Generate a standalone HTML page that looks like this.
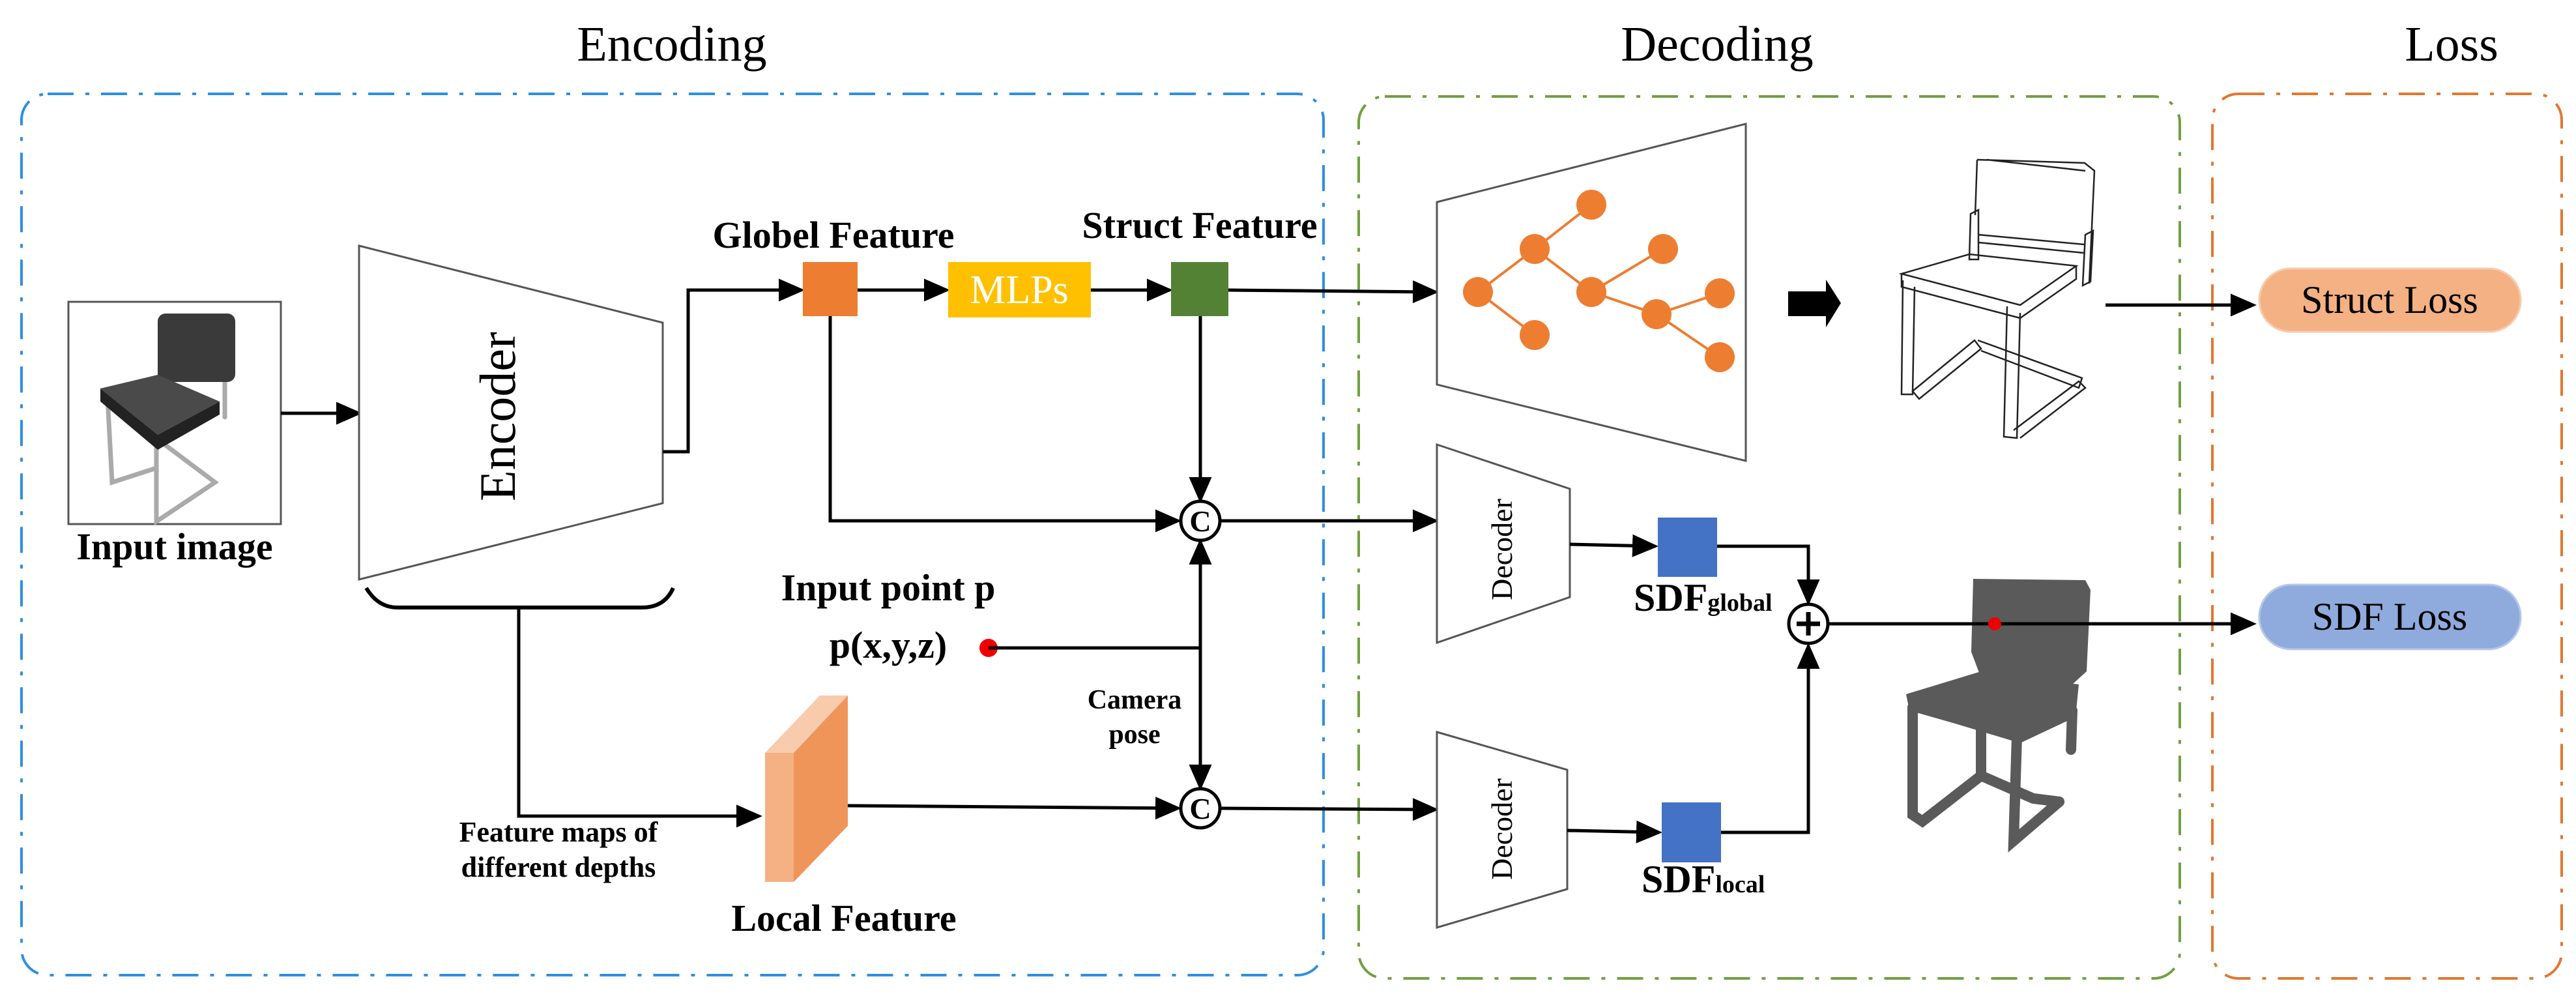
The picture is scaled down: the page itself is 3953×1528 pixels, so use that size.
<!DOCTYPE html>
<html><head><meta charset="utf-8"><style>
html,body{margin:0;padding:0;background:#fff;}
svg{display:block;}
text{font-family:"Liberation Serif",serif;}
</style></head><body>
<svg width="3953" height="1528" viewBox="0 0 3953 1528" xmlns="http://www.w3.org/2000/svg">
<defs>
<marker id="ah" markerWidth="8" markerHeight="8" refX="7" refY="4" orient="auto" markerUnits="strokeWidth">
<path d="M0,0.5 L8,4 L0,7.5 Z" fill="#000"/></marker>
</defs>
<rect width="3953" height="1528" fill="#fff"/>
<!-- titles -->
<text x="1031" y="93" font-size="76" text-anchor="middle">Encoding</text>
<text x="2635" y="93" font-size="76" text-anchor="middle">Decoding</text>
<text x="3762" y="93" font-size="76" text-anchor="middle">Loss</text>
<!-- dashed boxes -->
<g fill="none" stroke-width="4" stroke-dasharray="40 18 6 18">
<rect x="33" y="144" width="1998" height="1352" rx="40" stroke="#2E8FE0"/>
<rect x="2085" y="148" width="1260" height="1353" rx="40" stroke="#70A040"/>
<rect x="3395" y="144" width="536" height="1357" rx="40" stroke="#E07830"/>
</g>
<!-- input image -->
<rect x="105" y="463" width="326" height="341" fill="#fff" stroke="#555" stroke-width="3"/>
<g stroke="#aaa" stroke-width="7" fill="none" stroke-linecap="round">
<path d="M165,610 L172,740 L240,718"/>
<path d="M240,668 L240,800 L330,740 L250,680"/>
<path d="M345,580 L345,640"/>
</g>
<rect x="242" y="481" width="119" height="105" rx="12" fill="#3a3a3a"/>
<path d="M154,596 L242,575 L337,616 L242,667 Z" fill="#4a4a4a"/>
<path d="M154,596 L154,616 L242,690 L337,636 L337,616 L242,667 Z" fill="#222"/>
<text x="268" y="858" font-size="58" font-weight="bold" text-anchor="middle">Input image</text>
<!-- arrow to encoder -->
<line x1="431" y1="634" x2="551" y2="634" stroke="#000" stroke-width="5" marker-end="url(#ah)"/>
<!-- encoder -->
<path d="M551,377 L1017,495 L1017,772 L551,889 Z" fill="#fff" stroke="#555" stroke-width="3"/>
<text x="0" y="0" font-size="78" text-anchor="middle" transform="translate(790,639) rotate(-90)">Encoder</text>
<!-- brace -->
<path d="M562,902 Q580,932 610,932 L985,932 Q1020,932 1033,902" fill="none" stroke="#000" stroke-width="6"/>
<polyline points="796,932 796,1252 1165,1252" fill="none" stroke="#000" stroke-width="5" marker-end="url(#ah)"/>
<text x="857" y="1291" font-size="44" font-weight="bold" text-anchor="middle">Feature maps of</text>
<text x="857" y="1345" font-size="44" font-weight="bold" text-anchor="middle">different depths</text>
<!-- encoder output -->
<polyline points="1017,693 1056,693 1056,445 1230,445" fill="none" stroke="#000" stroke-width="5" marker-end="url(#ah)"/>
<!-- globel -->
<rect x="1232" y="402" width="84" height="83" fill="#ED7D31"/>
<text x="1279" y="380" font-size="58" font-weight="bold" text-anchor="middle">Globel Feature</text>
<line x1="1316" y1="445" x2="1453" y2="445" stroke="#000" stroke-width="5" marker-end="url(#ah)"/>
<rect x="1455" y="402" width="219" height="85" fill="#FFC000"/>
<text x="1564" y="465" font-size="62" fill="#fff" text-anchor="middle">MLPs</text>
<line x1="1674" y1="445" x2="1795" y2="445" stroke="#000" stroke-width="5" marker-end="url(#ah)"/>
<rect x="1797" y="402" width="88" height="83" fill="#548235"/>
<text x="1841" y="365" font-size="58" font-weight="bold" text-anchor="middle">Struct Feature</text>
<line x1="1885" y1="445" x2="2203" y2="448" stroke="#000" stroke-width="5" marker-end="url(#ah)"/>
<!-- globel down to C1 -->
<polyline points="1274,485 1274,799 1808,799" fill="none" stroke="#000" stroke-width="5" marker-end="url(#ah)"/>
<line x1="1842" y1="485" x2="1842" y2="767" stroke="#000" stroke-width="5" marker-end="url(#ah)"/>
<circle cx="1842" cy="799" r="30" fill="#fff" stroke="#000" stroke-width="5"/>
<text x="1842" y="815" font-size="46" font-weight="bold" text-anchor="middle">C</text>
<line x1="1872" y1="799" x2="2203" y2="799" stroke="#000" stroke-width="5" marker-end="url(#ah)"/>
<!-- input point -->
<text x="1363" y="921" font-size="58" font-weight="bold" text-anchor="middle">Input point p</text>
<text x="1363" y="1009" font-size="58" font-weight="bold" text-anchor="middle">p(x,y,z)</text>
<circle cx="1517" cy="994" r="14" fill="#E00"/>
<line x1="1517" y1="994" x2="1842" y2="994" stroke="#000" stroke-width="5"/>
<line x1="1842" y1="994" x2="1842" y2="831" stroke="#000" stroke-width="5" marker-end="url(#ah)"/>
<line x1="1842" y1="994" x2="1842" y2="1208" stroke="#000" stroke-width="5" marker-end="url(#ah)"/>
<text x="1741" y="1087" font-size="42" font-weight="bold" text-anchor="middle">Camera</text>
<text x="1741" y="1140" font-size="42" font-weight="bold" text-anchor="middle">pose</text>
<!-- local feature -->
<path d="M1174,1155 L1258,1067 L1301,1067 L1218,1155 Z" fill="#F8CBAD"/>
<rect x="1174" y="1155" width="44" height="198" fill="#F4B183"/>
<path d="M1218,1155 L1301,1067 L1301,1267 L1218,1353 Z" fill="#F0955A"/>
<text x="1295" y="1428" font-size="58" font-weight="bold" text-anchor="middle">Local Feature</text>
<line x1="1301" y1="1236" x2="1808" y2="1240" stroke="#000" stroke-width="5" marker-end="url(#ah)"/>
<circle cx="1842" cy="1240" r="30" fill="#fff" stroke="#000" stroke-width="5"/>
<text x="1842" y="1256" font-size="46" font-weight="bold" text-anchor="middle">C</text>
<line x1="1872" y1="1240" x2="2203" y2="1242" stroke="#000" stroke-width="5" marker-end="url(#ah)"/>
<!-- structure trapezoid -->
<path d="M2205,310 L2679,190 L2679,707 L2205,590 Z" fill="#fff" stroke="#555" stroke-width="3"/>
<g stroke="#ED7D31" stroke-width="4">
<line x1="2268" y1="448" x2="2355" y2="382"/>
<line x1="2355" y1="382" x2="2442" y2="314"/>
<line x1="2268" y1="448" x2="2355" y2="514"/>
<line x1="2355" y1="382" x2="2442" y2="448"/>
<line x1="2442" y1="448" x2="2552" y2="382"/>
<line x1="2442" y1="448" x2="2542" y2="482"/>
<line x1="2542" y1="482" x2="2639" y2="450"/>
<line x1="2542" y1="482" x2="2639" y2="548"/>
</g>
<g fill="#ED7D31">
<circle cx="2442" cy="314" r="23"/><circle cx="2355" cy="382" r="23"/><circle cx="2268" cy="448" r="23"/>
<circle cx="2355" cy="514" r="23"/><circle cx="2442" cy="448" r="23"/><circle cx="2552" cy="382" r="23"/>
<circle cx="2542" cy="482" r="23"/><circle cx="2639" cy="450" r="23"/><circle cx="2639" cy="548" r="23"/>
</g>
<path d="M2744,447 L2802,447 L2802,429 L2825,465 L2802,502 L2802,485 L2744,485 Z" fill="#000"/>
<!-- wireframe chair -->
<g fill="none" stroke="#222" stroke-width="2.5">
<path d="M3034,245 L3199,250 L3214,262 L3206,435 M3034,245 L3031,330 M3049,245 L3200,262"/>
<path d="M3024,328 L3036,322 L3036,398 L3022,398 Z"/>
<path d="M3200,360 L3212,354 L3208,432 L3196,438 Z"/>
<path d="M3036,360 L3198,375 M3036,372 L3198,388"/>
<path d="M2918,420 L3022,390 L3186,408 L3100,468 Z"/>
<path d="M2918,420 L2918,440 L3100,488 L3186,428 L3186,408"/>
<path d="M2920,430 L2918,605 L2935,605 L2938,440"/>
<path d="M3080,470 L3075,670 L3095,672 L3100,480"/>
<path d="M2935,600 L3030,522 L3040,535 L2945,612 Z"/>
<path d="M3035,522 L3195,580 L3190,595 L3040,538"/>
<path d="M3090,660 L3190,585 L3200,595 L3100,672"/>
</g>
<line x1="3231" y1="468" x2="3458" y2="468" stroke="#000" stroke-width="5" marker-end="url(#ah)"/>
<rect x="3467" y="412" width="401" height="97" rx="48" fill="#F4B183" stroke="#F8CBAD" stroke-width="3"/>
<text x="3667" y="480" font-size="60" text-anchor="middle">Struct Loss</text>
<!-- decoder 1 -->
<path d="M2205,682 L2409,750 L2409,916 L2205,986 Z" fill="#fff" stroke="#555" stroke-width="3"/>
<text font-size="46" text-anchor="middle" transform="translate(2320,843) rotate(-90)">Decoder</text>
<line x1="2409" y1="835" x2="2540" y2="838" stroke="#000" stroke-width="5" marker-end="url(#ah)"/>
<rect x="2544" y="794" width="91" height="91" fill="#4472C4"/>
<text x="2507" y="937" font-size="60" font-weight="bold">SDF<tspan font-size="38">global</tspan></text>
<polyline points="2635,838 2775,838 2775,924" fill="none" stroke="#000" stroke-width="5" marker-end="url(#ah)"/>
<!-- decoder 2 -->
<path d="M2205,1123 L2405,1181 L2405,1364 L2205,1423 Z" fill="#fff" stroke="#555" stroke-width="3"/>
<text font-size="46" text-anchor="middle" transform="translate(2320,1272) rotate(-90)">Decoder</text>
<line x1="2405" y1="1274" x2="2546" y2="1277" stroke="#000" stroke-width="5" marker-end="url(#ah)"/>
<rect x="2550" y="1231" width="91" height="92" fill="#4472C4"/>
<text x="2519" y="1369" font-size="60" font-weight="bold">SDF<tspan font-size="38">local</tspan></text>
<polyline points="2641,1277 2775,1277 2775,991" fill="none" stroke="#000" stroke-width="5" marker-end="url(#ah)"/>
<!-- plus -->
<circle cx="2775" cy="957" r="30" fill="#fff" stroke="#000" stroke-width="5"/>
<line x1="2757" y1="957" x2="2793" y2="957" stroke="#000" stroke-width="7"/>
<line x1="2775" y1="939" x2="2775" y2="975" stroke="#000" stroke-width="7"/>
<!-- gray chair -->
<g fill="#5a5a5a">
<path d="M3028,888 L3200,890 L3208,905 L3202,1030 L3180,1050 L3040,1040 L3025,1000 Z"/>
<path d="M2925,1065 L3040,1030 L3190,1050 L3185,1100 L3100,1140 L3000,1110 L2930,1090 Z"/>
</g>
<g fill="none" stroke="#5a5a5a" stroke-width="16" stroke-linecap="round">
<path d="M2935,1085 L2935,1250 L2950,1260 L3040,1190 L3120,1225 L3160,1230"/>
<path d="M3180,1090 L3178,1150"/>
<path d="M3095,1130 L3090,1290 L3160,1230"/>
<path d="M3040,1040 L3040,1190"/>
</g>
<line x1="2805" y1="957" x2="3458" y2="957" stroke="#000" stroke-width="5" marker-end="url(#ah)"/>
<circle cx="3061" cy="957" r="10" fill="#E00"/>
<rect x="3467" y="897" width="401" height="99" rx="49" fill="#8FAADC" stroke="#B4C7E7" stroke-width="3"/>
<text x="3667" y="966" font-size="60" text-anchor="middle">SDF Loss</text>
</svg>
</body></html>
